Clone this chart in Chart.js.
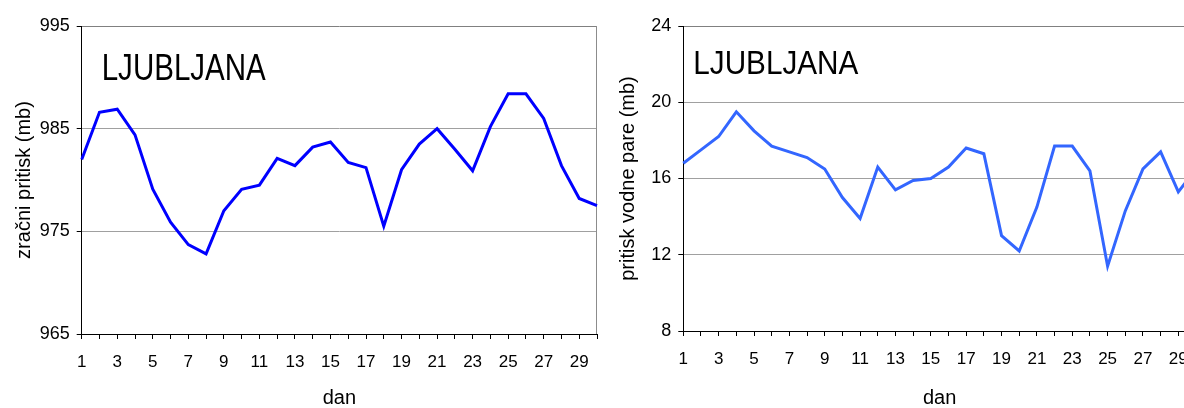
<!DOCTYPE html>
<html>
<head>
<meta charset="utf-8">
<script src="https://cdn.jsdelivr.net/npm/chart.js@4.4.0/dist/chart.umd.min.js"></script>
<style>
  html, body { margin: 0; padding: 0; background: #fff; overflow: hidden; width: 1184px; height: 408px; }
  #left { position: absolute; left: 0; top: 0; width: 600px; height: 408px; }
  #right { position: absolute; left: 600px; top: 0; width: 599px; height: 408px; }
</style>
</head>
<body>
<div id="left"><canvas id="pressureChart"></canvas></div>
<div id="right"><canvas id="vaporChart"></canvas></div>
<script>
// days of the month
const days = ['1','2','3','4','5','6','7','8','9','10','11','12','13','14','15',
              '16','17','18','19','20','21','22','23','24','25','26','27','28','29','30']

// air pressure (mb), Ljubljana
const airPressure = [982.0, 986.6, 986.9, 984.4, 979.1, 975.9, 973.7, 972.8, 977.0, 979.1,
                     979.5, 982.1, 981.4, 983.2, 983.7, 981.7, 981.2, 975.5, 981.0, 983.5,
                     985.0, 983.0, 980.9, 985.2, 988.4, 988.4, 986.0, 981.4, 978.2, 977.5]

// water vapour pressure (mb), Ljubljana
const vaporPressure = [16.8, 17.5, 18.2, 19.5, 18.5, 17.7, 17.4, 17.1, 16.5, 15.0,
                       13.9, 16.6, 15.4, 15.9, 16.0, 16.6, 17.6, 17.3, 13.0, 12.2,
                       14.5, 17.7, 17.7, 16.4, 11.4, 14.3, 16.5, 17.4, 15.3, 16.5]

const pressureTicks = [965, 975, 985, 995]
const vaporTicks = [8, 12, 16, 20, 24]

const FONT = "'Liberation Sans', Arial, sans-serif"

// station name inside the plot + grey right border of the plot area
const plotDecor = {
  id: 'plotDecor',
  beforeDatasetsDraw(chart) {
    const { ctx, chartArea } = chart
    ctx.save()
    ctx.strokeStyle = '#8c8c8c'
    ctx.lineWidth = 1
    ctx.beginPath()
    ctx.moveTo(Math.round(chartArea.right) - 0.5, chartArea.top)
    ctx.lineTo(Math.round(chartArea.right) - 0.5, chartArea.bottom)
    ctx.stroke()
    ctx.restore()
  },
  afterDraw(chart, args, opts) {
    if (!opts.text) return
    const { ctx } = chart
    ctx.save()
    ctx.font = opts.size + 'px ' + FONT
    ctx.fillStyle = '#000'
    ctx.textBaseline = 'alphabetic'
    ctx.translate(opts.x, opts.y)
    ctx.scale(opts.sx, 1)
    ctx.fillText(opts.text, 0, 0)
    ctx.restore()
  }
}

function createLineChart(canvasId, values, opts) {
  const ctx = document.getElementById(canvasId)
  return new Chart(ctx, {
    type: 'line',
    data: {
      labels: days,
      datasets: [{
        data: values,
        borderColor: opts.color,
        borderWidth: 3,
        pointRadius: 0,
        pointHoverRadius: 0,
        tension: 0,
        fill: false
      }]
    },
    plugins: [plotDecor],
    options: {
      responsive: true,
      maintainAspectRatio: false,
      animation: false,
      layout: { autoPadding: false, padding: { top: 26, right: opts.padRight, bottom: 0, left: 0 } },
      plugins: {
        legend: { display: false },
        tooltip: { enabled: false },
        plotDecor: opts.label
      },
      scales: {
        x: {
          offset: false,
          afterFit(scale) { scale.height = opts.xHeight },
          border: { display: true, color: '#000', width: 1 },
          grid: { display: true, drawOnChartArea: false, tickLength: 5, tickColor: '#000' },
          ticks: {
            autoSkip: false,
            maxRotation: 0,
            color: '#000',
            padding: 3,
            // tall line box pushes the labels down without widening the right padding
            font: { family: FONT, size: 17, lineHeight: 2.35 },
            callback(value, index) { return index % 2 === 0 ? days[index] : '' }
          },
          title: {
            display: true,
            text: 'dan',
            color: '#000',
            font: { family: FONT, size: 20, lineHeight: 1 },
            padding: 0
          }
        },
        y: {
          min: opts.ticks[0],
          max: opts.ticks[opts.ticks.length - 1],
          afterFit(scale) { scale.width = opts.yWidth },
          afterBuildTicks(scale) { scale.ticks = opts.ticks.map(v => ({ value: v })) },
          border: { display: true, color: '#000', width: 1 },
          grid: {
            color(c) { return c.index === opts.ticks.length - 1 ? '#808080' : '#a0a0a0' },
            tickLength: 5,
            tickColor: '#000'
          },
          ticks: {
            color: '#000',
            padding: 7,
            font: { family: FONT, size: 18 }
          },
          title: {
            display: true,
            text: opts.yTitle,
            color: '#000',
            font: { family: FONT, size: 20, lineHeight: 1.2 },
            padding: { top: opts.yTitlePad, bottom: 0 }
          }
        }
      }
    }
  })
}

createLineChart('pressureChart', airPressure, {
  color: '#0000ff',
  ticks: pressureTicks,
  yTitle: 'zračni pritisk (mb)',
  yWidth: 81.7,
  yTitlePad: 12,
  xHeight: 74,
  padRight: 3,
  label: { text: 'LJUBLJANA', x: 101.7, y: 80, size: 36, sx: 0.82 }
})

createLineChart('vaporChart', vaporPressure, {
  color: '#3366ff',
  ticks: vaporTicks,
  yTitle: 'pritisk vodne pare (mb)',
  yWidth: 83.3,
  yTitlePad: 16,
  xHeight: 77,
  padRight: 3,
  label: { text: 'LJUBLJANA', x: 93.3, y: 74, size: 33, sx: 0.9 }
})
</script>
</body>
</html>
